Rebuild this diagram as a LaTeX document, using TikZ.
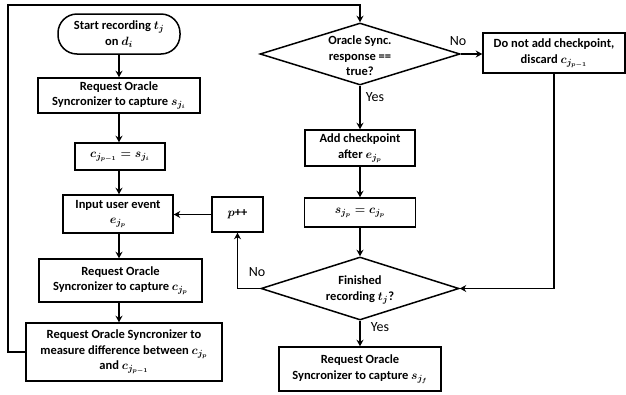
\documentclass[tikz,border=0pt]{standalone}
\usepackage{fontspec}
\setmainfont{Carlito}
\usetikzlibrary{shapes.geometric,arrows.meta}
\begin{document}
\begin{tikzpicture}[x=1pt,y=-1pt,
  txt/.style={align=center,inner sep=0pt,font=\fontsize{12.5}{15.5}\selectfont\bfseries\boldmath},
  box/.style={txt,draw,line width=1.5pt,rectangle},
  dia/.style={draw,diamond,line width=1.5pt,inner sep=0pt},
  arr/.style={line width=1.5pt,-{Stealth[length=6.5pt,width=7pt]}},
  lbl/.style={font=\fontsize{14}{16}\selectfont,inner sep=0pt}]
\useasboundingbox (0,0) rectangle (626,394);

% left column
\node[box,rounded corners=19pt,minimum width=122pt,minimum height=40pt] (start) at (119,34) {Start recording $t_j$\\on $d_i$};
\node[box,minimum width=162pt,minimum height=35pt] (req1) at (119,95.5) {Request Oracle\\Syncronizer to capture $s_{j_i}$};
\node[box,minimum width=90pt,minimum height=27pt] (eq1) at (120,156.5) {$c_{j_{p-1}} = s_{j_i}$};
\node[box,minimum width=110pt,minimum height=38pt] (input) at (118,214) {Input user event\\$e_{j_p}$};
\node[box,minimum width=51pt,minimum height=35pt] (pp) at (237.5,214.5) {$p$++};
\node[box,minimum width=163pt,minimum height=43pt] (req2) at (120.5,280.5) {Request Oracle\\Syncronizer to capture $c_{j_p}$};
\node[box,minimum width=196pt,minimum height=58pt] (meas) at (124,352) {Request Oracle Syncronizer to\\measure difference between $c_{j_p}$\\and $c_{j_{p-1}}$};

% right column
\node[dia,minimum width=200pt,minimum height=62pt] (d1) at (360,54) {};
\node[txt] (d1t) at (360,56) {Oracle Sync.\\response ==\\true?};
\node[box,minimum width=142pt,minimum height=40pt] (no1) at (554,53) {Do not add checkpoint,\\discard $c_{j_{p-1}}$};
\node[box,minimum width=110pt,minimum height=36pt] (add) at (360,148) {Add checkpoint\\after $e_{j_p}$};
\node[box,minimum width=111pt,minimum height=29pt] (sc) at (360,212.5) {$s_{j_p} = c_{j_p}$};
\node[dia,minimum width=198pt,minimum height=63pt] (d2) at (360,288.5) {};
\node[txt] (d2t) at (360,290) {Finished\\recording $t_j$?};
\node[box,minimum width=162pt,minimum height=44pt] (final) at (360,369) {Request Oracle\\Syncronizer to capture $s_{j_f}$};

% labels
\node[lbl] (no1l) at (458,41) {No};
\node[lbl] (yes1l) at (375,97) {Yes};
\node[lbl] (no2l) at (257,272) {No};
\node[lbl] (yes2l) at (380,327) {Yes};

\coordinate (lt) at (8,5);

% connectors
\draw[arr] (start.south) -- (start.south |- req1.north);
\draw[arr] (req1.south) -- (req1.south |- eq1.north);
\draw[arr] (eq1.south -| req1.south) -- (req1.south |- input.north);
\draw[arr] (input.south -| req1.south) -- (req1.south |- req2.north);
\draw[arr] (req2.south -| req1.south) -- (req1.south |- meas.north);
\draw[arr] (meas.west) -| (lt) -| (d1.north);
\draw[arr] (pp.west) -- (input.east |- pp.west);
\draw[arr] (d1.east) -- (no1.west |- d1.east);
\draw[arr] (d1.south) -- (d1.south |- add.north);
\draw[arr] (add.south) -- (add.south |- sc.north);
\draw[arr] (sc.south) -- (sc.south |- d2.north);
\draw[arr] (no1.south) |- (d2.east);
\draw[arr] (d2.west) -| (pp.south);
\draw[arr] (d2.south) -- (d2.south |- final.north);
\end{tikzpicture}
\end{document}
